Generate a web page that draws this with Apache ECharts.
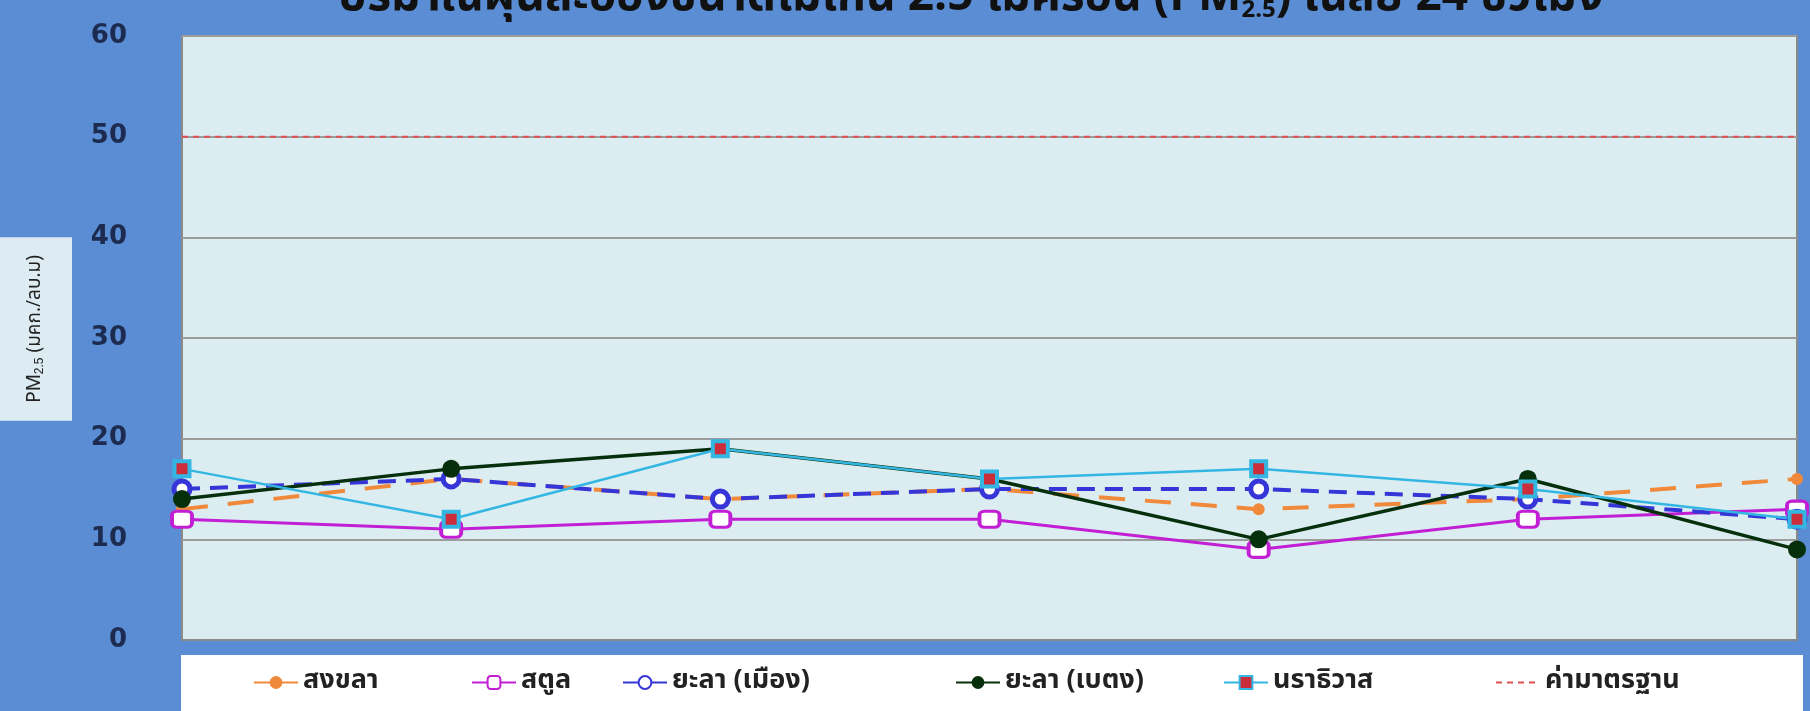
<!DOCTYPE html>
<html lang="th">
<head>
    <meta charset="UTF-8">
    <title>PM2.5 เฉลี่ย 24 ชั่วโมง</title>
    <style>
        html, body {
            margin: 0;
            padding: 0;
            background: #5a8dd3;
        }
        #main {
            width: 1810px;
            height: 711px;
        }
    </style>
    <script type="text/javascript" src="https://cdn.jsdelivr.net/npm/echarts@6/dist/echarts.min.js"></script>
</head>
<body>
<div id="main"></div>
<script type="text/javascript">
    // x labels are hidden behind the legend box in the original
    var days = ['1', '2', '3', '4', '5', '6', '7'];
    var yTicks = [0, 10, 20, 30, 40, 50, 60];

    var songkhla = [13, 16, 14, 15, 13, 14, 16];
    var satun = [12, 11, 12, 12, 9, 12, 13];
    var yalaMueang = [15, 16, 14, 15, 15, 14, 12];
    var yalaBetong = [14, 17, 19, 16, 10, 16, 9];
    var narathiwat = [17, 12, 19, 16, 17, 15, 12];
    var standard = [50, 50, 50, 50, 50, 50, 50];

    var names = ['สงขลา', 'สตูล', 'ยะลา (เมือง)', 'ยะลา (เบตง)', 'นราธิวาส', 'ค่ามาตรฐาน'];
    // legend slots, excel places each entry at a fixed spot
    var legendLeft = [248, 466, 617, 950, 1218, 1490];

    var chart = echarts.init(document.getElementById('main'));
    var thaiFont = '"Noto Sans Thai", "Loma", "Garuda", "DejaVu Sans", sans-serif';

    var legends = names.map(function (n, i) {
        var item = {name: n};
        var std = n === 'ค่ามาตรฐาน';
        if (std) {
            item.itemStyle = {opacity: 0};
        }
        return {
            left: legendLeft[i],
            top: 664,
            itemWidth: 44,
            itemHeight: 16,
            itemGap: 4,
            lineStyle: {type: std ? [6, 5] : 'solid'},
            textStyle: {fontSize: 27, fontWeight: 'bold', color: '#222', fontFamily: thaiFont},
            data: [item]
        };
    });

    var option = {
        backgroundColor: '#5a8dd3',
        animation: false,
        title: {
            text: '{t|ปริมาณฝุ่นละอองขนาดไม่เกิน 2.5 ไมครอน (PM}{s|2.5}{t|) เฉลี่ย 24 ชั่วโมง}',
            left: 333,
            top: -27,
            textStyle: {
                rich: {
                    t: {fontSize: 46, fontWeight: 'bold', color: '#111', fontFamily: thaiFont},
                    s: {fontSize: 24, fontWeight: 'bold', color: '#111', verticalAlign: 'bottom',
                        padding: [18, 0, 0, 0], fontFamily: thaiFont}
                }
            }
        },
        graphic: [{
            type: 'rect',
            z: -1,
            shape: {x: 181, y: 655, width: 1622, height: 60},
            style: {fill: '#ffffff'}
        }, {
            // y axis title box
            type: 'text',
            x: 36,
            y: 329,
            rotation: Math.PI / 2,
            style: {
                text: '{a|PM}{s|2.5}{a| (มคก./ลบ.ม)}',
                align: 'center',
                verticalAlign: 'middle',
                backgroundColor: '#dcecf2',
                padding: [26, 18, 26, 18],
                rich: {
                    a: {fontSize: 19, fill: '#222', fontFamily: thaiFont},
                    s: {fontSize: 12, fill: '#222', verticalAlign: 'bottom', padding: [8, 0, 0, 0]}
                }
            }
        }],
        legend: legends,
        grid: {
            left: 182,
            right: 13,
            top: 36,
            bottom: 71,
            containLabel: false,
            outerBoundsMode: 'none',
            show: true,
            backgroundColor: '#dcedf2',
            borderColor: '#8a8a8a',
            borderWidth: 2
        },
        xAxis: {
            type: 'category',
            data: days,
            boundaryGap: false,
            axisLabel: {show: false},
            axisTick: {show: false},
            axisLine: {lineStyle: {color: '#8a8a8a', width: 2}}
        },
        yAxis: {
            type: 'value',
            min: yTicks[0],
            max: yTicks[yTicks.length - 1],
            interval: 10,
            axisLine: {show: false},
            axisTick: {show: false},
            axisLabel: {
                margin: 55,
                fontSize: 26,
                fontFamily: 'DejaVu Sans',
                fontWeight: 'bold',
                color: '#1c2b4f'
            },
            splitLine: {lineStyle: {color: '#9c9c9c', width: 2}}
        },
        series: [
            {
                name: names[0],
                type: 'line',
                data: songkhla,
                symbol: 'circle',
                symbolSize: 12,
                itemStyle: {color: '#f0893a'},
                lineStyle: {color: '#f0893a', width: 4, type: [26, 20]}
            },
            {
                name: names[1],
                type: 'line',
                data: satun,
                symbol: 'roundRect',
                symbolSize: [20, 16],
                itemStyle: {color: '#ffffff', borderColor: '#c21fd4', borderWidth: 3.5},
                lineStyle: {color: '#c21fd4', width: 3}
            },
            {
                name: names[2],
                type: 'line',
                data: yalaMueang,
                symbol: 'circle',
                symbolSize: 16,
                itemStyle: {color: '#ffffff', borderColor: '#3636d8', borderWidth: 5},
                lineStyle: {color: '#3636d8', width: 4, type: [18, 10]}
            },
            {
                name: names[3],
                type: 'line',
                data: yalaBetong,
                symbol: 'circle',
                symbolSize: 18,
                itemStyle: {color: '#06300c'},
                lineStyle: {color: '#06300c', width: 3.5}
            },
            {
                name: names[4],
                type: 'line',
                data: narathiwat,
                symbol: 'rect',
                symbolSize: 15,
                itemStyle: {color: '#cc2d3a', borderColor: '#33b7e2', borderWidth: 4},
                lineStyle: {color: '#33b7e2', width: 2.5}
            },
            {
                name: names[5],
                type: 'line',
                data: standard,
                symbol: 'none',
                itemStyle: {color: '#e05050'},
                lineStyle: {color: '#e05050', width: 2, type: [6, 5]}
            }
        ]
    };
    chart.setOption(option);
</script>
</body>
</html>
